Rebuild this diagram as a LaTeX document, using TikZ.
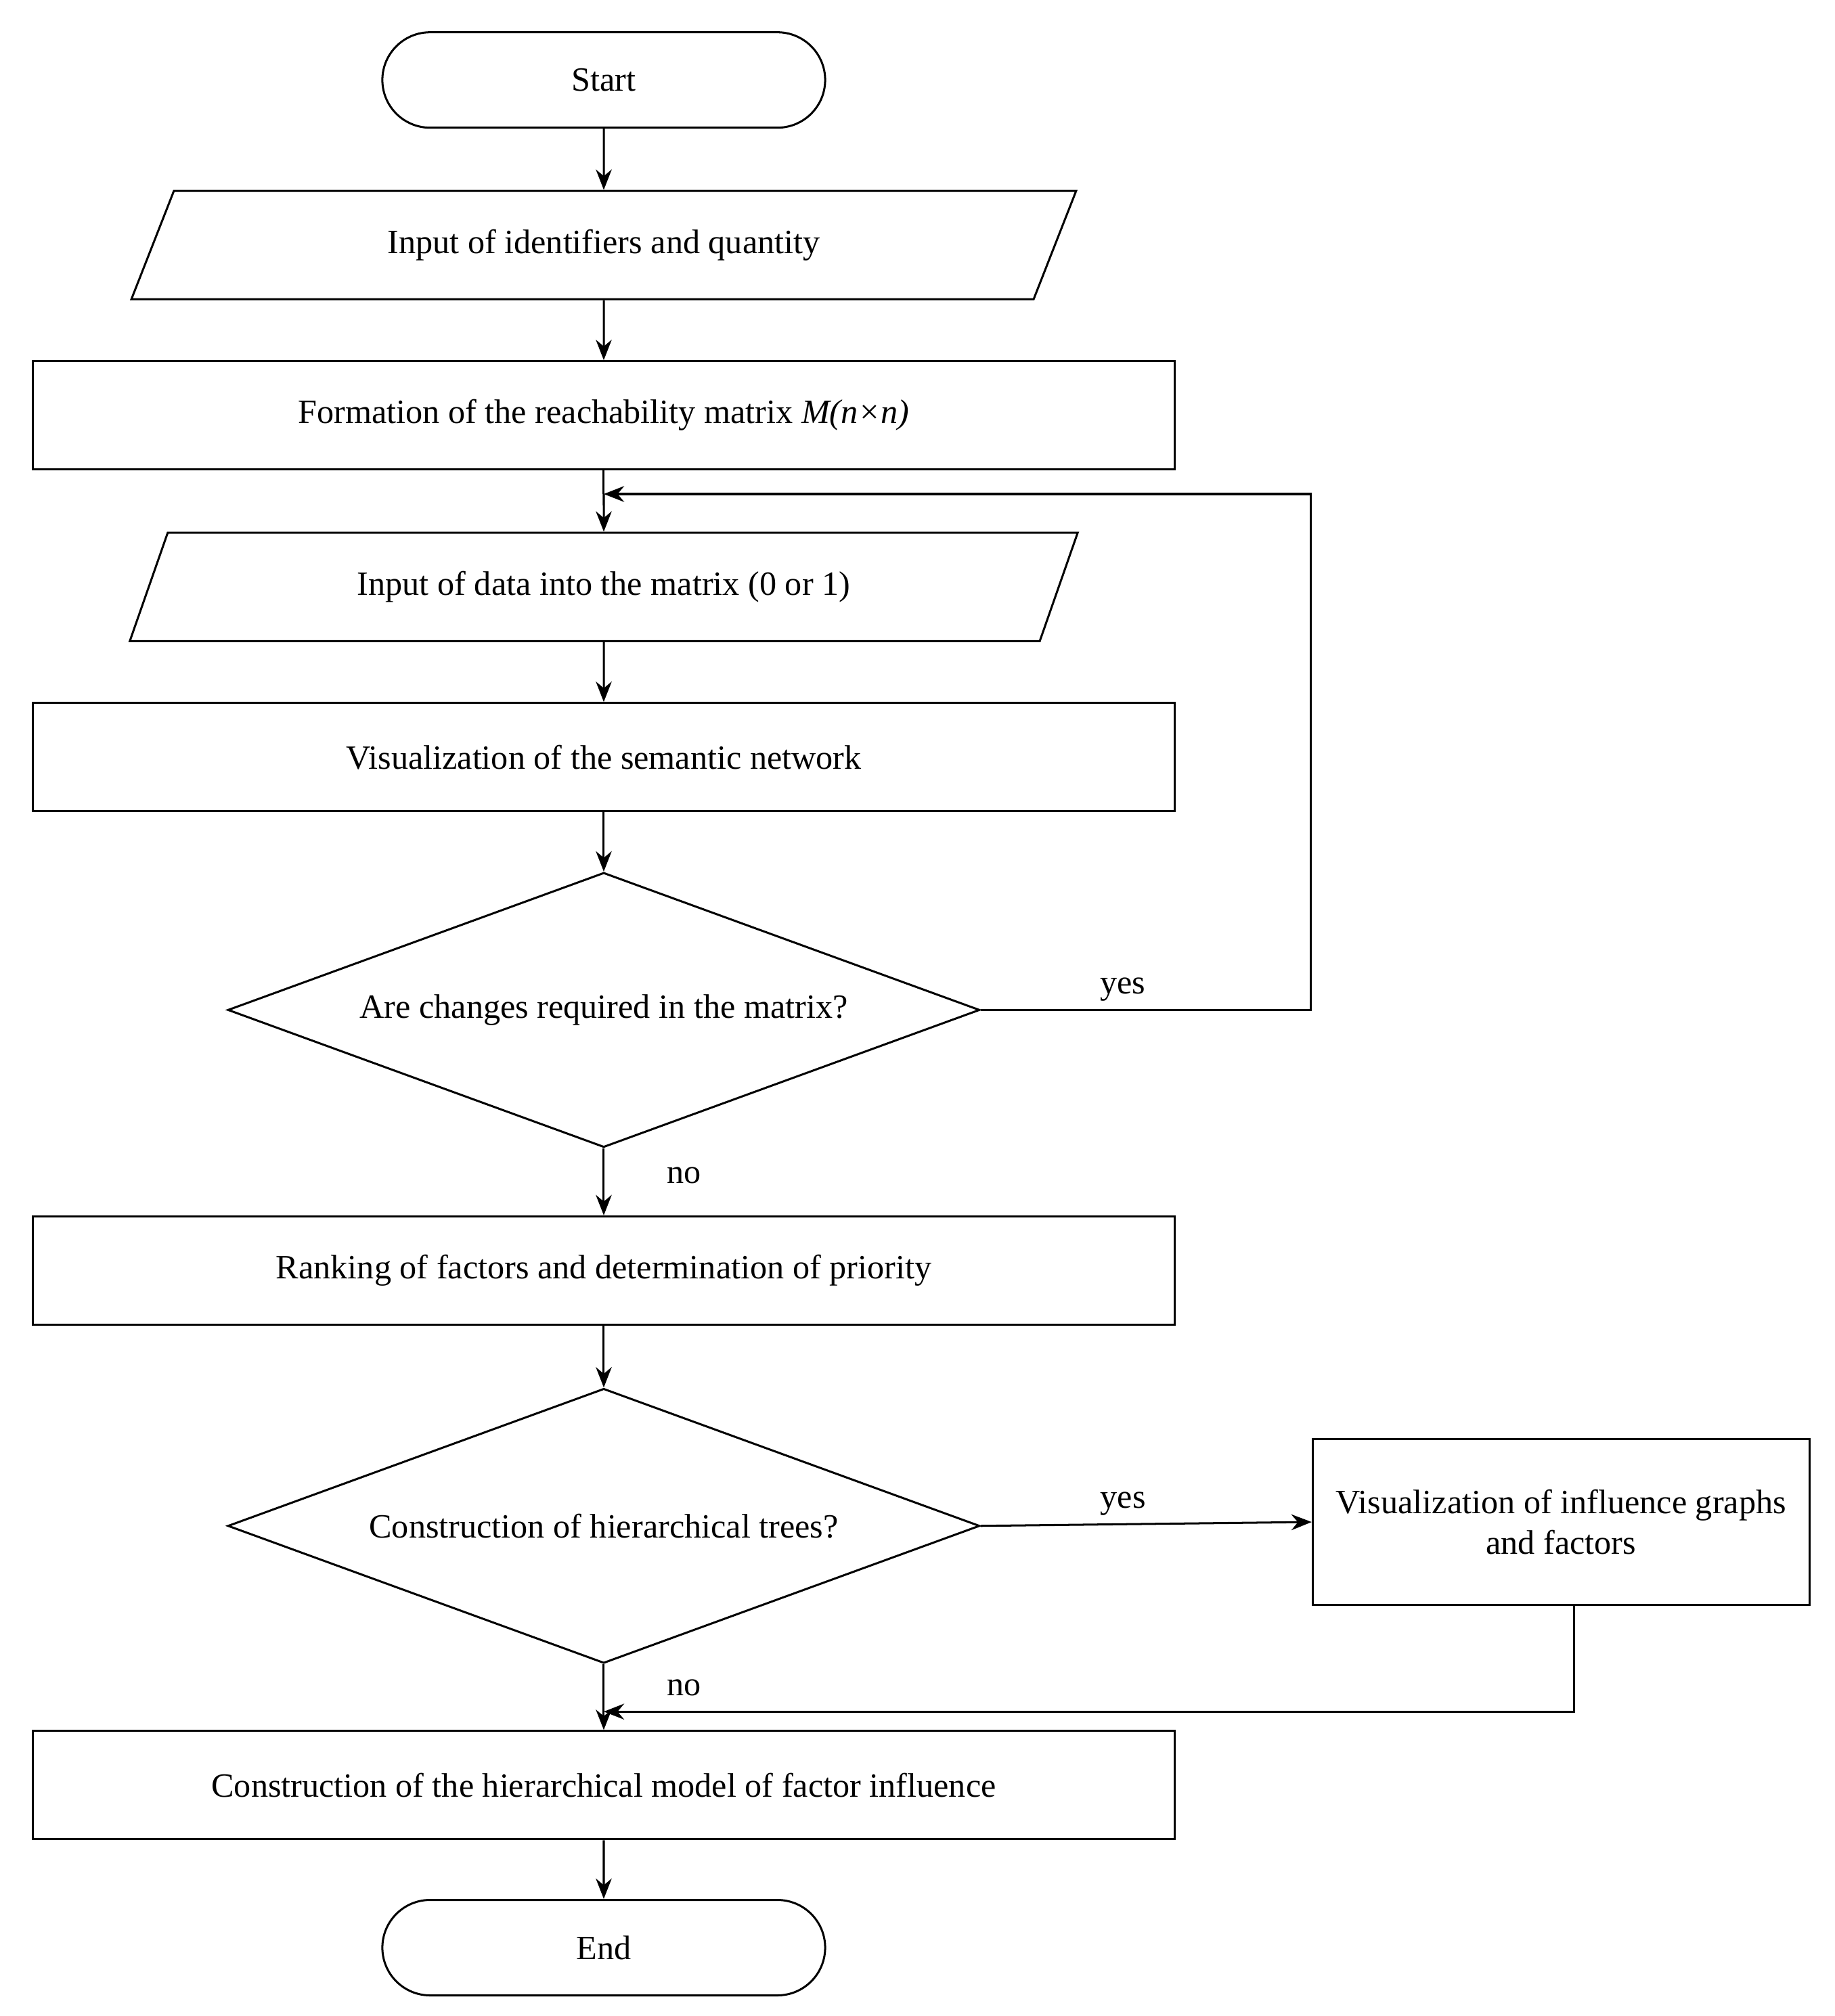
\documentclass[tikz,border=0pt]{standalone}
\usepackage{fontspec}
\setmainfont{Liberation Serif}
\usetikzlibrary{shapes.geometric,shapes.misc,arrows.meta}
\tikzset{
  base/.style={draw, line width=0.9pt, align=center, font=\fontsize{15}{18}\selectfont},
  term/.style={base, rounded rectangle, minimum width=7.1cm, minimum height=1.48cm},
  io/.style={base, trapezium, trapezium stretches=true, trapezium left angle=64.5,
    trapezium right angle=115.5, minimum width=14.7cm, minimum height=1.68cm},
  proc/.style={base, rectangle, minimum width=17.7cm, minimum height=1.68cm},
  decide/.style={base, diamond, shape aspect=2.74, minimum width=11.66cm, minimum height=4.26cm, inner sep=0pt},
  flow/.style={line width=0.9pt, -{Stealth[length=9pt,width=7pt]}},
  lbl/.style={font=\fontsize{15}{18}\selectfont}
}
\begin{document}
\begin{tikzpicture}[x=0.02cm, y=-0.02cm]
\useasboundingbox (0,0) rectangle (1422,1563);
\node[term] (start) at (468,62) {Start};
\node[io] (ids) at (468,190) {Input of identifiers and quantity};
\node[proc] (form) at (468,322) {Formation of the reachability matrix \textit{M(n×n)}};
\node[io] (data) at (468,455) {Input of data into the matrix (0 or 1)};
\node[proc] (sem) at (468,587) {Visualization of the semantic network};
\node[decide] (chg) at (468,783) {Are changes required in the matrix?};
\node[proc] (rank) at (468,985) {Ranking of factors and determination of priority};
\node[decide] (tree) at (468,1183) {Construction of hierarchical trees?};
\node[base, minimum width=7.7cm, minimum height=2.58cm] (infl) at (1210,1180)
  {Visualization of influence graphs\\and factors};
\node[proc] (model) at (468,1384) {Construction of the hierarchical model of factor influence};
\node[term] (end) at (468,1510) {End};
\coordinate (loop) at (468,383);
\coordinate (join) at (468,1327);
% main line
\draw[flow] (start) -- (ids);
\draw[flow] (ids) -- (form);
\draw[line width=0.9pt] (form) -- (loop);
\draw[flow] (loop) -- (data);
\draw[flow] (data) -- (sem);
\draw[flow] (sem) -- (chg);
\draw[flow] (chg) -- node[lbl, right=24pt, pos=0.4] {no} (rank);
\draw[flow] (rank) -- (tree);
\draw[line width=0.9pt] (tree) -- node[lbl, right=24pt, pos=0.5] {no} (join);
\draw[flow] (join) -- (model);
\draw[flow] (model) -- (end);
% branches
\draw[flow] (chg.east) -- node[lbl, above, pos=0.43] {yes} (1016,783) |- (loop);
\draw[flow] (tree.east) -- node[lbl, above, pos=0.43] {yes} (infl.west);
\draw[flow] (infl.south -| 1220,0) |- (join);
\end{tikzpicture}
\end{document}
